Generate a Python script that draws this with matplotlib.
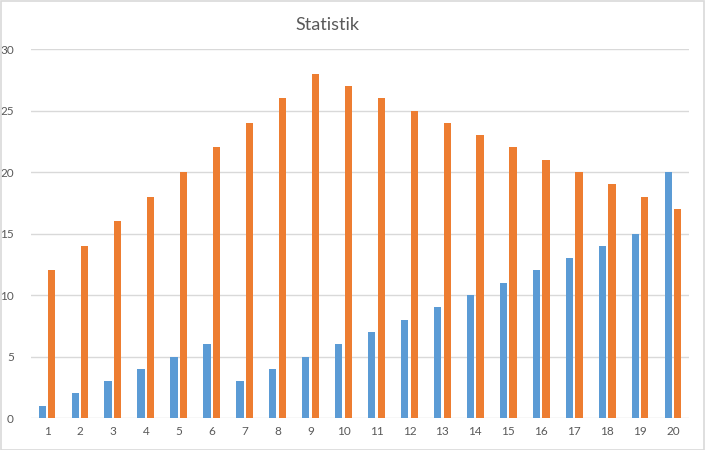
import matplotlib
matplotlib.use("Agg")
import matplotlib.pyplot as plt
import numpy as np
from matplotlib.patches import Rectangle

categories = [str(i) for i in range(1, 21)]
series_blue = [1, 2, 3, 4, 5, 6, 3, 4, 5, 6, 7, 8, 9, 10, 11, 12, 13, 14, 15, 20]
series_orange = [12, 14, 16, 18, 20, 22, 24, 26, 28, 27, 26, 25, 24, 23, 22, 21, 20, 19, 18, 17]
yticks = [0, 5, 10, 15, 20, 25, 30]
title = "Statistik"

plt.rcParams['font.family'] = ['Lato', 'DejaVu Sans']

fig = plt.figure(figsize=(7.05, 4.5), dpi=100)
ax = fig.add_axes([0.0433, 0.0711, 0.9347, 0.82])

x = np.arange(1, len(categories) + 1)
w = 0.22
off = 0.145
ax.bar(x - off, series_blue, width=w, color='#5B9BD5', zorder=3)
ax.bar(x + off, series_orange, width=w, color='#ED7D31', zorder=3)

ax.set_xlim(0.5, 20.5)
ax.set_ylim(0, 30)
ax.set_yticks(yticks)
ax.set_xticks(x)
ax.set_xticklabels(categories)
ax.grid(axis='y', color='#D9D9D9', linewidth=1, zorder=0)
for s in ax.spines.values():
    s.set_visible(False)
ax.tick_params(axis='both', length=0, colors='#595959', labelsize=8.5)
ax.tick_params(axis='y', pad=12)
ax.tick_params(axis='x', pad=6)

fig.text(327 / 705, 1 - 25 / 450, title, ha='center', va='center', fontsize=13, color='#595959')
fig.patches.append(Rectangle((0.001, 0.001), 0.997, 0.996, transform=fig.transFigure,
                             fill=False, edgecolor='#D9D9D9', linewidth=1.2))

fig.savefig('out.png', dpi=100)
